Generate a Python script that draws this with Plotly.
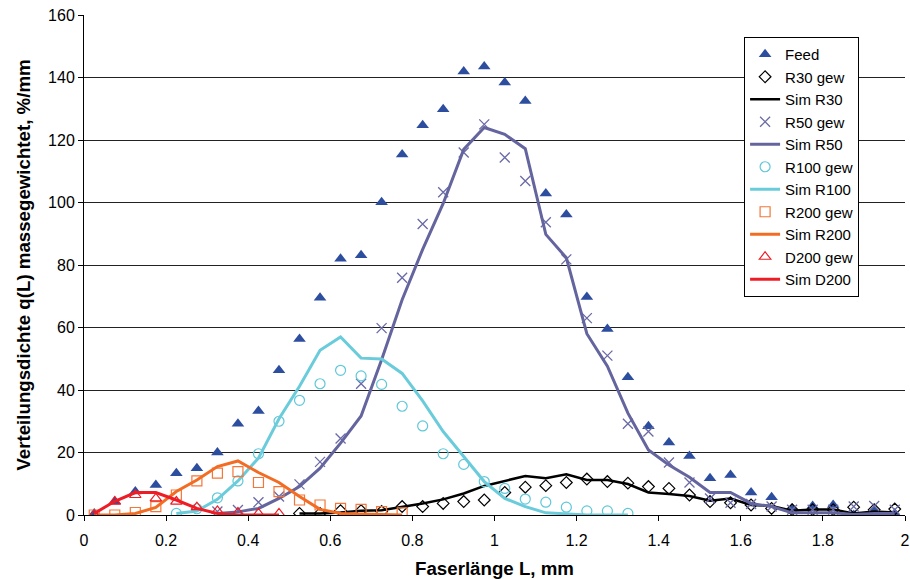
import plotly.graph_objects as go

# Fibre length class midpoints (mm)
x_all = [0.025, 0.075, 0.125, 0.175, 0.225, 0.275, 0.325, 0.375, 0.425, 0.475,
         0.525, 0.575, 0.625, 0.675, 0.725, 0.775, 0.825, 0.875, 0.925, 0.975,
         1.025, 1.075, 1.125, 1.175, 1.225, 1.275, 1.325, 1.375, 1.425, 1.475,
         1.525, 1.575, 1.625, 1.675, 1.725, 1.775, 1.825, 1.875, 1.925, 1.975]

feed = [0.5, 4.3, 7.5, 9.6, 13.4, 15.0, 20.0, 29.2, 33.3, 46.3,
        56.3, 69.5, 82.0, 83.1, 100.1, 115.4, 124.7, 129.8, 141.9, 143.5,
        138.4, 132.5, 102.9, 96.2, 69.8, 59.5, 44.1, 28.4, 23.2, 18.9,
        11.8, 12.8, 7.2, 5.7, 2.1, 2.9, 3.2, 0.0, 1.4, 0.5]

# R30 fraction (0.525 ... 1.975 mm)
x_r30 = [0.525, 0.575, 0.625, 0.675, 0.725, 0.775, 0.825, 0.875, 0.925, 0.975,
         1.025, 1.075, 1.125, 1.175, 1.225, 1.275, 1.325, 1.375, 1.425, 1.475,
         1.525, 1.575, 1.625, 1.675, 1.725, 1.775, 1.825, 1.875, 1.925, 1.975]
r30_meas = [0.5, 0.5, 1.4, 1.4, 1.1, 2.7, 2.7, 3.7, 4.3, 4.8,
            7.2, 8.9, 9.4, 10.4, 11.5, 10.7, 10.2, 9.1, 8.5, 6.4,
            4.3, 3.9, 3.2, 2.1, 1.7, 1.7, 1.7, 2.5, 1.7, 1.9]
r30_sim = [0.5, 0.5, 0.8, 1.4, 1.5, 2.5, 3.7, 5.0, 6.9, 9.3,
           11.0, 12.5, 11.8, 13.0, 11.2, 11.2, 9.9, 7.2, 6.7, 6.1,
           4.6, 5.3, 3.2, 2.9, 1.4, 1.8, 1.8, 0.5, 1.1, 0.8]

# R50 fraction (0.325 ... 1.975 mm)
x_r50 = [0.325, 0.375, 0.425, 0.475, 0.525, 0.575, 0.625, 0.675, 0.725, 0.775,
         0.825, 0.875, 0.925, 0.975, 1.025, 1.075, 1.125, 1.175, 1.225, 1.275,
         1.325, 1.375, 1.425, 1.475, 1.525, 1.575, 1.625, 1.675, 1.725, 1.775,
         1.825, 1.875, 1.925, 1.975]
r50_meas = [1.1, 1.6, 4.1, 5.9, 9.8, 17.0, 24.5, 42.0, 59.8, 75.9,
            93.1, 103.3, 116.0, 125.0, 114.4, 106.9, 93.7, 81.8, 63.0, 51.0,
            29.2, 26.7, 16.8, 10.4, 5.3, 3.9, 3.5, 2.7, 1.7, 1.7,
            1.7, 2.7, 2.9, 1.7]
r50_sim = [0.5, 1.0, 2.1, 5.3, 9.1, 15.0, 23.0, 31.7, 49.7, 68.9,
           85.0, 99.7, 117.0, 124.0, 121.8, 117.2, 89.8, 82.3, 58.0, 47.6,
           32.6, 20.8, 16.0, 12.1, 7.2, 7.2, 3.7, 2.7, 0.7, 0.7,
           0.7, 0.2, 0.5, 0.5]

# R100 fraction (0.225 ... 1.325 mm)
x_r100 = [0.225, 0.275, 0.325, 0.375, 0.425, 0.475, 0.525, 0.575, 0.625, 0.675,
          0.725, 0.775, 0.825, 0.875, 0.925, 0.975, 1.025, 1.075, 1.125, 1.175,
          1.225, 1.275, 1.325]
r100_meas = [0.5, 2.0, 5.5, 10.9, 19.6, 30.0, 36.7, 42.0, 46.3, 44.5,
             41.8, 34.8, 28.5, 19.6, 16.2, 10.7, 8.5, 5.1, 4.1, 2.5,
             1.3, 1.3, 0.5]
r100_sim = [0.5, 1.3, 5.0, 10.9, 18.2, 30.8, 41.2, 52.7, 57.0, 50.2,
            49.9, 45.3, 36.5, 26.7, 18.7, 10.7, 5.3, 2.7, 0.7, 0.3,
            0.0, 0.0, 0.0]

# R200 fraction (0.025 ... 0.775 mm)
x_r200 = [0.025, 0.075, 0.125, 0.175, 0.225, 0.275, 0.325, 0.375, 0.425, 0.475,
          0.525, 0.575, 0.625, 0.675, 0.725, 0.775]
r200_meas = [0.0, 0.0, 0.8, 2.7, 6.4, 10.9, 13.4, 13.9, 10.4, 7.5,
             4.8, 3.2, 2.1, 1.8, 1.1, 0.7]
r200_sim = [0.0, 0.0, 0.5, 2.4, 7.5, 11.2, 15.5, 17.3, 13.6, 10.4,
            5.9, 1.8, 0.5, 0.3, 0.0, 0.0]

# D200 fraction (0.025 ... 0.475 mm)
x_d200 = [0.025, 0.075, 0.125, 0.175, 0.225, 0.275, 0.325, 0.375, 0.425, 0.475]
d200_meas = [0.0, 4.3, 6.4, 5.3, 4.3, 2.5, 1.3, 0.8, 0.5, 0.5]
d200_sim = [0.5, 4.4, 7.2, 7.2, 4.8, 2.1, 0.5, 0.0, 0.0, 0.0]

FONT = "Liberation Sans, Arial, sans-serif"

fig = go.Figure()


def markers(x, y, name, symbol, color, size, lw=1.2):
    fig.add_trace(go.Scatter(
        x=x, y=y, name=name, mode="markers",
        marker=dict(symbol=symbol, size=size, color=color,
                    line=dict(color=color, width=lw))))


def line(x, y, name, color, width=3):
    fig.add_trace(go.Scatter(
        x=x, y=y, name=name, mode="lines",
        line=dict(color=color, width=width)))


markers(x_all, feed, "Feed", "triangle-up", "#2D4E9F", 11, 0)
markers(x_r30, r30_meas, "R30 gew", "diamond-open", "#000000", 9)
line(x_r30, r30_sim, "Sim R30", "#000000", 2.5)
markers(x_r50, r50_meas, "R50 gew", "x-thin-open", "#6A6AA6", 10, 1.3)
line(x_r50, r50_sim, "Sim R50", "#64649E")
markers(x_r100, r100_meas, "R100 gew", "circle-open", "#5FC8D8", 10)
line(x_r100, r100_sim, "Sim R100", "#6ACCDB")
markers(x_r200, r200_meas, "R200 gew", "square-open", "#F3773A", 10)
line(x_r200, r200_sim, "Sim R200", "#F36C24")
markers(x_d200, d200_meas, "D200 gew", "triangle-up-open", "#EE1C25", 10)
line(x_d200, d200_sim, "Sim D200", "#EE1C25")

fig.update_layout(
    width=910, height=579,
    margin=dict(l=84, r=0, t=15, b=64),
    paper_bgcolor="white", plot_bgcolor="white",
    font=dict(family=FONT, size=16, color="#000000"),
    showlegend=True,
    legend=dict(
        x=0.804, y=0.956, xanchor="left", yanchor="top",
        bgcolor="white", bordercolor="#000000", borderwidth=1,
        font=dict(family=FONT, size=15, color="#000000"),
        tracegroupgap=0, itemwidth=30,
    ),
    xaxis=dict(
        range=[0, 2], dtick=0.2, tick0=0,
        showgrid=False, zeroline=False,
        showline=True, linecolor="#000000", linewidth=1,
        ticks="outside", ticklen=5, tickcolor="#000000",
        ticklabelstandoff=6, ticklabeloverflow="allow",
        tickfont=dict(family=FONT, size=16),
        title=dict(text="<b>Faserlänge L, mm</b>",
                   font=dict(family=FONT, size=18.7), standoff=16),
    ),
    yaxis=dict(
        range=[0, 160], dtick=20, tick0=0,
        showgrid=True, gridcolor="#222222", gridwidth=1,
        zeroline=False,
        showline=True, linecolor="#000000", linewidth=1,
        ticks="outside", ticklen=5, tickcolor="#000000",
        tickfont=dict(family=FONT, size=16),
        title=dict(text="<b>Verteilungsdichte q(L) massegewichtet, %/mm</b>",
                   font=dict(family=FONT, size=18.7), standoff=12),
    ),
)

fig.write_html("out.html")
